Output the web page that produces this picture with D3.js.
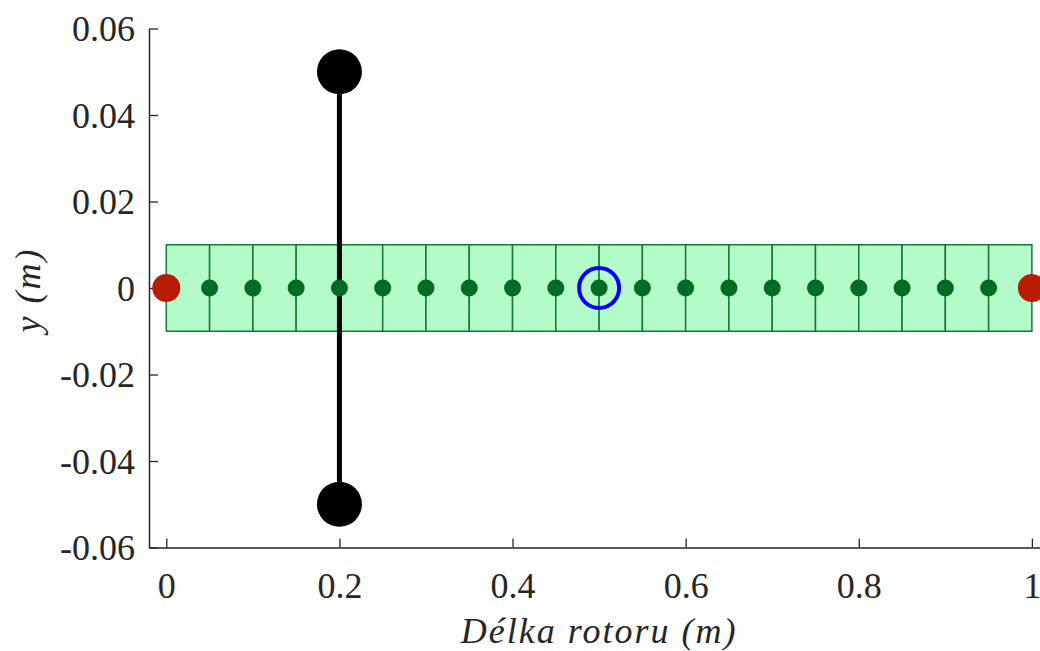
<!DOCTYPE html>
<html>
<head>
<meta charset="utf-8">
<script src="https://d3js.org/d3.v7.min.js"></script>
<style>
  body { margin: 0; background: #fff; }
  text { font-family: "Liberation Serif", "Times New Roman", serif; fill: #262626; }
</style>
</head>
<body>
<div id="chart"></div>
<script>
// element edges along the rotor (m)
var cellEdges = [0, 0.05, 0.1, 0.15, 0.2, 0.25, 0.3, 0.35, 0.4, 0.45, 0.5,
                 0.55, 0.6, 0.65, 0.7, 0.75, 0.8, 0.85, 0.9, 0.95, 1];
// inner nodes
var nodeX = [0.05, 0.1, 0.15, 0.2, 0.25, 0.3, 0.35, 0.4, 0.45, 0.5,
             0.55, 0.6, 0.65, 0.7, 0.75, 0.8, 0.85, 0.9, 0.95];
// bearings at both ends
var bearingX = [0, 1];
// disc position and its two ends
var discX = 0.2;
var discY = [0.05, -0.05];
// highlighted node
var markX = [0.5];
var halfWidth = 0.01;

var xTicks = [0, 0.2, 0.4, 0.6, 0.8, 1];
var yTicks = [0.06, 0.04, 0.02, 0, -0.02, -0.04, -0.06];
var yTickLabels = ["0.06", "0.04", "0.02", "0", "-0.02", "-0.04", "-0.06"];

plot_rotor("#chart");

function plot_rotor(htmlObjectId) {
    var width = 1040;
    var height = 651;

    var x = d3.scaleLinear().domain([-0.02, 1.02]).range([149, 1049.2]);
    var y = d3.scaleLinear().domain([-0.06, 0.06]).range([547.5, 28.5]);

    var svg = d3.select(htmlObjectId)
                .append("svg")
                .attr("width", width)
                .attr("height", height);

    // axes (ticks pointing inward like MATLAB)
    var xAxis = d3.axisTop(x).tickValues(xTicks).tickSize(9).tickSizeOuter(0)
                  .tickFormat(function(d) { return d; });
    var gx = svg.append("g").attr("transform", "translate(0," + y(-0.06) + ")").call(xAxis);
    gx.select(".domain").attr("stroke", "#262626").attr("stroke-width", 1.5);
    gx.selectAll(".tick line").attr("stroke", "#262626").attr("stroke-width", 1.3);
    gx.selectAll(".tick text").attr("y", 50).attr("dy", 0)
      .attr("font-size", 36).attr("fill", "#262626")
      .style("font-family", "Liberation Serif");

    var yAxis = d3.axisRight(y).tickValues(yTicks).tickSize(9).tickSizeOuter(0)
                  .tickFormat(function(d, i) { return yTickLabels[i]; });
    var gy = svg.append("g").attr("transform", "translate(" + x(-0.02) + ",0)").call(yAxis);
    gy.select(".domain").attr("stroke", "#262626").attr("stroke-width", 1.5);
    gy.selectAll(".tick line").attr("stroke", "#262626").attr("stroke-width", 1.3);
    gy.selectAll(".tick text").attr("x", -14).attr("dy", "0.34em")
      .attr("text-anchor", "end")
      .attr("font-size", 36).attr("fill", "#262626")
      .style("font-family", "Liberation Serif");

    // rotor elements
    svg.append("g").selectAll("rect")
        .data(d3.pairs(cellEdges))
        .enter().append("rect")
        .attr("x", function(d) { return x(d[0]); })
        .attr("width", function(d) { return x(d[1]) - x(d[0]); })
        .attr("y", y(halfWidth))
        .attr("height", y(-halfWidth) - y(halfWidth))
        .attr("fill", "#b3fcca")
        .attr("stroke", "#137a35")
        .attr("stroke-width", 1.5);

    // disc
    svg.append("line")
        .attr("x1", x(discX)).attr("x2", x(discX))
        .attr("y1", y(discY[0])).attr("y2", y(discY[1]))
        .attr("stroke", "#000").attr("stroke-width", 5);
    svg.append("g").selectAll("circle")
        .data(discY)
        .enter().append("circle")
        .attr("cx", x(discX))
        .attr("cy", function(d) { return y(d); })
        .attr("r", 22.5)
        .attr("fill", "#000");

    // nodes
    svg.append("g").selectAll("circle")
        .data(nodeX)
        .enter().append("circle")
        .attr("cx", function(d) { return x(d); })
        .attr("cy", y(0))
        .attr("r", 8.5)
        .attr("fill", "#006b25");

    svg.append("g").selectAll("circle")
        .data(bearingX)
        .enter().append("circle")
        .attr("cx", function(d) { return x(d); })
        .attr("cy", y(0))
        .attr("r", 14)
        .attr("fill", "#b81c02");

    svg.append("g").selectAll("circle")
        .data(markX)
        .enter().append("circle")
        .attr("cx", function(d) { return x(d); })
        .attr("cy", y(0))
        .attr("r", 20)
        .attr("fill", "none")
        .attr("stroke", "#0000ff")
        .attr("stroke-width", 4);

    // axis labels
    svg.append("text")
        .attr("x", x(0.5)).attr("y", 643)
        .attr("text-anchor", "middle")
        .attr("font-size", 36).attr("font-style", "italic")
        .attr("letter-spacing", 2)
        .text("Délka rotoru (m)");

    svg.append("text")
        .attr("transform", "translate(40," + (y(0) + 2) + ") rotate(-90)")
        .attr("text-anchor", "middle")
        .attr("font-size", 36).attr("font-style", "italic")
        .attr("letter-spacing", 2)
        .text("y (m)");
}
</script>
</body>
</html>
